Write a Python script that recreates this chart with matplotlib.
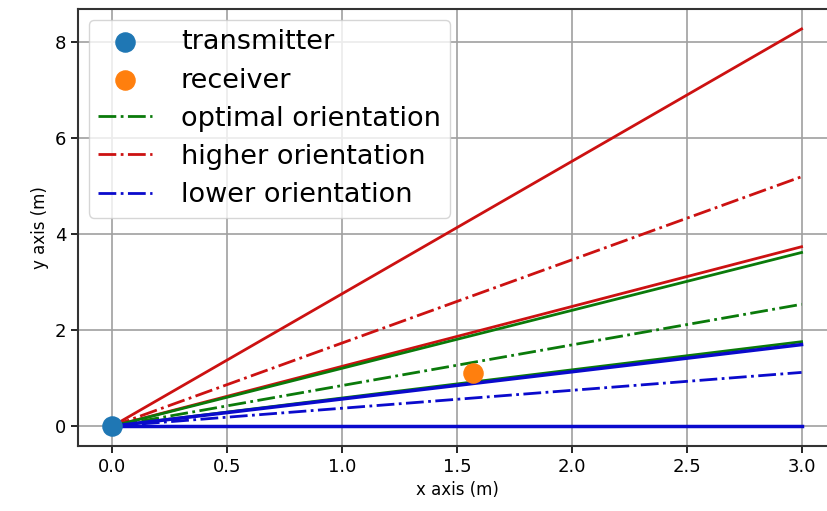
import matplotlib
matplotlib.use('Agg')
import matplotlib.pyplot as plt

# positions (m)
tx = (0.0, 0.0)
rx = (1.57, 1.10)

# beam lines: end heights at x = 3.0, start at origin
x_end = 3.0
optimal_center = 2.54
optimal_edges = [3.62, 1.76]
higher_center = 5.20
higher_edges = [8.28, 3.74]
lower_center = 1.12
lower_edges = [1.70, 0.0]

c_green = '#0a7a0a'
c_red = '#cc1111'
c_blue = '#0a0acc'

fig = plt.figure(figsize=(8.27, 5.11), dpi=100)
ax = fig.add_axes([0.0943, 0.1272, 0.9166, 0.855])

ax.scatter([tx[0]], [tx[1]], s=190, color='C0', label='transmitter', zorder=3)
ax.scatter([rx[0]], [rx[1]], s=190, color='C1', label='receiver', zorder=3)

ax.plot([0, x_end], [0, optimal_center], linestyle='-.', color=c_green, lw=2, label='optimal orientation')
ax.plot([0, x_end], [0, higher_center], linestyle='-.', color=c_red, lw=2, label='higher orientation')
ax.plot([0, x_end], [0, lower_center], linestyle='-.', color=c_blue, lw=2, label='lower orientation')

for y in higher_edges:
    ax.plot([0, x_end], [0, y], color=c_red, lw=2)
for y in optimal_edges:
    ax.plot([0, x_end], [0, y], color=c_green, lw=2)
for y in lower_edges:
    ax.plot([0, x_end], [0, y], color=c_blue, lw=2.5)

ax.set_xlabel('x axis (m)', fontsize=12)
ax.set_ylabel('y axis (m)', fontsize=12)
ax.tick_params(labelsize=13, width=1.2, length=5)
ax.grid(True, color='#a0a0a0', lw=1.2)
for s in ax.spines.values():
    s.set_linewidth(1.5)
    s.set_color('#333333')

ax.legend(loc='upper left', fontsize=19.5, handlelength=2.0, markerscale=1.0,
          labelspacing=0.45, borderpad=0.35, handletextpad=1.05,
          borderaxespad=0.4)

fig.savefig('out.png', dpi=100)
